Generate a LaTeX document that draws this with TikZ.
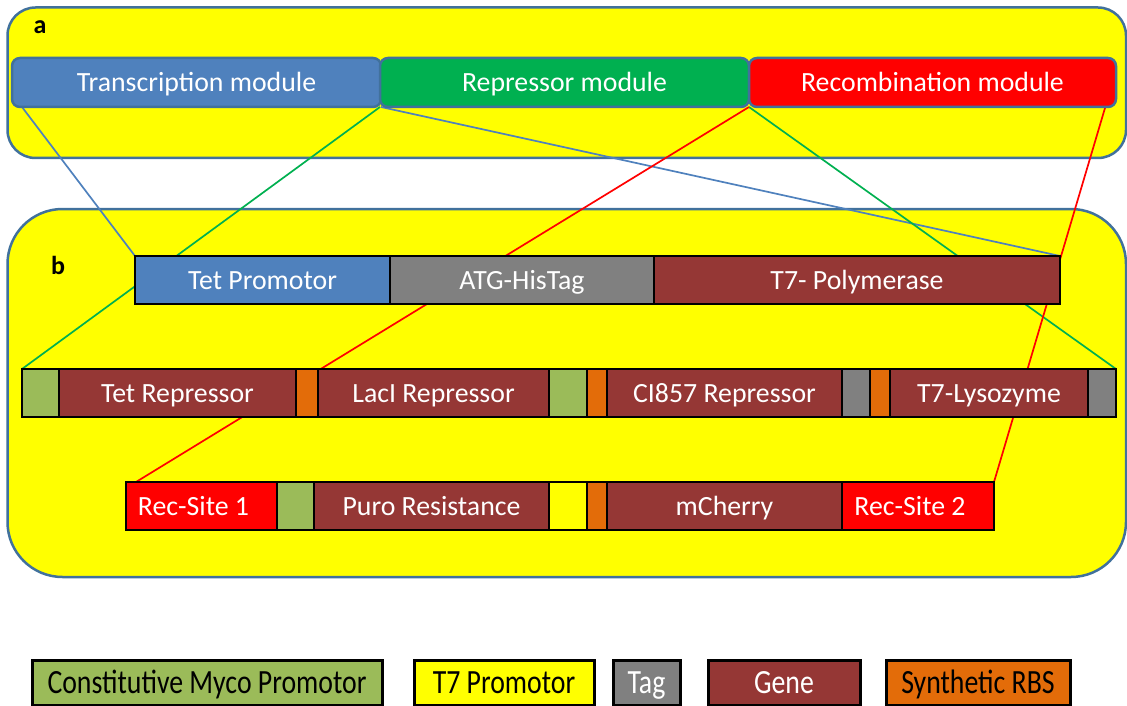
\documentclass[tikz,border=0pt]{standalone}
\usepackage{fontspec}
\setmainfont{Carlito}
\usetikzlibrary{calc}
\definecolor{pyel}{HTML}{FFFF00}
\definecolor{pbord}{HTML}{41719C}
\definecolor{tblue}{HTML}{4F81BD}
\definecolor{rgreen}{HTML}{00B050}
\definecolor{rred}{HTML}{FF0000}
\definecolor{gene}{HTML}{953735}
\definecolor{tagc}{HTML}{808080}
\definecolor{myco}{HTML}{9BBB59}
\definecolor{rbs}{HTML}{E36C09}
\pgfdeclarelayer{back}
\pgfsetlayers{back,main}
\newcommand{\blk}[7]{\node[#1,minimum width={(#4-#3)*1pt},minimum height={(#6-#5)*1pt}] (#2) at ({(#3+#4)/2},{(#5+#6)/2}) {#7};}
\newcommand{\legtxt}[1]{\scalebox{1}[1.22]{#1}}
\tikzset{
  panel/.style={fill=pyel,draw=pbord,line width=2.5pt},
  module/.style={draw=pbord,line width=2.5pt,rounded corners=8pt,text=white,inner sep=0pt,outer sep=0pt,text height=21pt,text depth=2pt},
  seg/.style={draw=black,line width=2.5pt,text=white,inner sep=0pt,outer sep=0pt,text height=21pt,text depth=2pt},
  legbox/.style={draw=black,line width=3pt,inner sep=0pt,outer sep=0pt,text height=25pt,text depth=3pt},
  conn/.style={line width=1.7pt},
  plabel/.style={font=\fontsize{26}{30}\selectfont\bfseries,anchor=base,inner sep=0pt}
}
\begin{document}
\begin{tikzpicture}[x=1pt,y=-1pt,font=\fontsize{27.8}{32}\selectfont]
\useasboundingbox (0,0) rectangle (1127,706);
% modules
\blk{module,fill=tblue}{tm}{12}{381}{58}{107}{Transcription module}
\blk{module,fill=rgreen}{rm}{380}{749}{58}{107}{Repressor module}
\blk{module,fill=rred}{recm}{749}{1116}{58}{107}{Recombination module}
% row 1
\blk{seg,fill=tblue}{tp}{135}{390}{256}{304}{Tet Promotor}
\blk{seg,fill=tagc}{atg}{390}{654}{256}{304}{ATG-HisTag}
\blk{seg,fill=gene}{pol}{654}{1060}{256}{304}{T7- Polymerase}
% row 2
\blk{seg,fill=myco}{gA}{22}{59}{369}{417}{}
\blk{seg,fill=gene}{tetr}{59}{296}{369}{417}{Tet Repressor}
\blk{seg,fill=rbs}{oA}{296}{318}{369}{417}{}
\blk{seg,fill=gene}{laci}{318}{549}{369}{417}{LacI Repressor}
\blk{seg,fill=myco}{gB}{549}{587}{369}{417}{}
\blk{seg,fill=rbs}{oB}{587}{607}{369}{417}{}
\blk{seg,fill=gene}{ci}{607}{842}{369}{417}{CI857 Repressor}
\blk{seg,fill=tagc}{tA}{842}{870}{369}{417}{}
\blk{seg,fill=rbs}{oC}{870}{890}{369}{417}{}
\blk{seg,fill=gene}{lys}{890}{1088}{369}{417}{T7-Lysozyme}
\blk{seg,fill=tagc}{tB}{1088}{1116}{369}{417}{}
% row 3
\blk{seg,fill=rred}{rs1}{126}{277}{482}{530}{Rec-Site 1\hspace*{16pt}}
\blk{seg,fill=myco}{gC}{277}{314}{482}{530}{}
\blk{seg,fill=gene}{puro}{314}{549}{482}{530}{Puro Resistance}
\blk{seg,fill=pyel}{yA}{549}{587}{482}{530}{}
\blk{seg,fill=rbs}{oD}{587}{607}{482}{530}{}
\blk{seg,fill=gene}{mch}{607}{842}{482}{530}{mCherry}
\blk{seg,fill=rred}{rs2}{842}{994}{482}{530}{Rec-Site 2\hspace*{16pt}}
% panel labels
\node[plabel] (la) at (40,34) {a};
\node[plabel] (lb) at (58,274) {b};
% legend
\blk{legbox,fill=myco}{l1}{32}{382}{660}{705}{\legtxt{Constitutive Myco Promotor}}
\blk{legbox,fill=pyel}{l2}{414}{594}{660}{705}{\legtxt{T7 Promotor}}
\blk{legbox,fill=tagc,text=white}{l3}{613}{680}{660}{705}{\legtxt{Tag}}
\blk{legbox,fill=gene,text=white}{l4}{708}{860}{660}{705}{\legtxt{Gene}}
\blk{legbox,fill=rbs}{l5}{886}{1070}{660}{705}{\legtxt{Synthetic RBS}}
% panels and connectors behind
\begin{pgfonlayer}{back}
\draw[panel,rounded corners=28pt] (7.5,7.5) rectangle (1126,158);
\draw[panel,rounded corners=55pt] (7.5,209) rectangle (1126,577);
\draw[conn,tblue] ($(tm.south west)+(10,0)$) -- (tp.north west);
\draw[conn,tblue] (tm.south east) -- (pol.north east);
\draw[conn,rgreen] (rm.south west) -- (gA.north west);
\draw[conn,rgreen] (rm.south east) -- (tB.north east);
\draw[conn,rred] (recm.south west) -- ($(rs1.north west)+(10,0)$);
\draw[conn,rred] ($(recm.south east)+(-11,1)$) -- (rs2.north east);
\end{pgfonlayer}
\end{tikzpicture}
\end{document}
